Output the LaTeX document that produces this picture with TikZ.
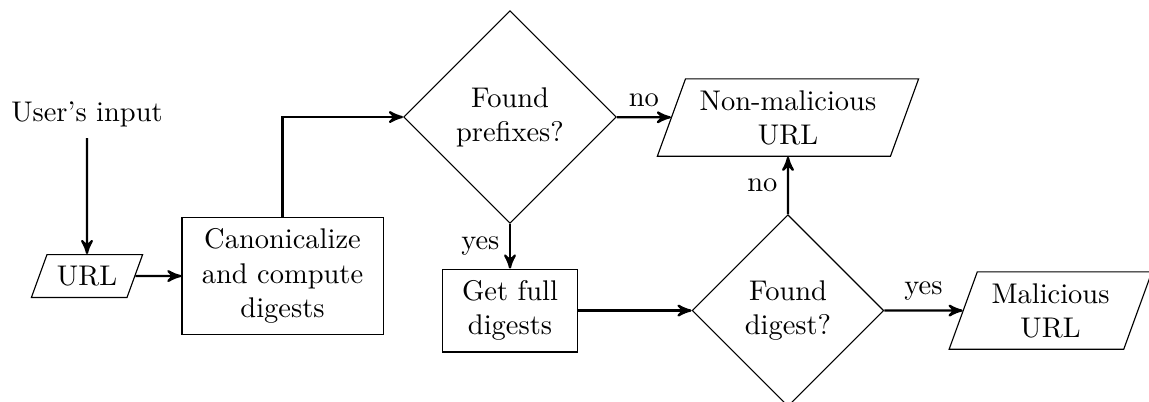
\documentclass[tikz,border=0pt]{standalone}
\usepackage{tikz}
\usetikzlibrary{arrows,shapes.geometric,positioning}

\begin{document}
\begin{tikzpicture}[node distance=2cm,on grid,auto,>=stealth',thick]
       \tikzstyle{block}=[draw,thin,rectangle,align=center,inner xsep=7pt,inner ysep=4pt]
       \tikzstyle{decision}=[draw,thin,diamond,align=center,inner sep=4pt]
       \tikzstyle{io}=[draw,thin,trapezium,trapezium left angle=70,trapezium right angle=110,align=center,inner xsep=5pt,inner ysep=4pt]

       \useasboundingbox (0,0) rectangle (14.185,4.951);

       \node[io,inner xsep=3.5pt] (url) at (1.074,1.543) {URL};
       \node           (input)  [above=1.99cm of url] {User's input};
       \node[block]    (canon)  [right=2.414cm of url] {Canonicalize\\and compute\\digests};
       \node[decision] (prefix) [above right=1.963cm and 2.808cm of canon] {Found\\prefixes?};
       \node[block]    (full)   [below=2.389cm of prefix] {Get full\\digests};
       \node[decision] (digest) [right=3.432cm of full] {Found\\digest?};
       \node[io]       (safe)   [above=2.383cm of digest] {Non-malicious\\URL};
       \node[io]       (bad)    [right=3.241cm of digest] {Malicious\\URL};

       \path[->]
       (input) edge (url)
       (url) edge (canon)
       (prefix) edge node {no} (safe)
                edge [swap] node {yes} (full)
       (full) edge (digest)
       (digest) edge node {no} (safe)
                edge node {yes} (bad);
       \draw[->] (canon.north) |- (prefix.west);
\end{tikzpicture}
\end{document}
